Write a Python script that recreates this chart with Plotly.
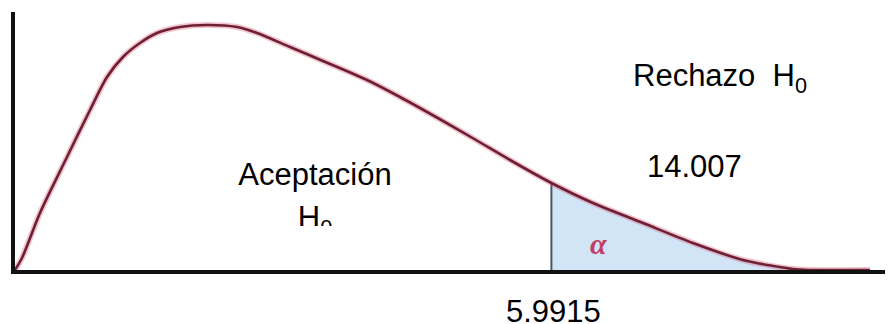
import plotly.graph_objects as go

# Curve (x in chi-square units, y density-like units)
curve_x = [0.0, 0.078, 0.279, 0.581, 0.838, 1.028, 1.206, 1.396, 1.586, 1.843,
           2.145, 2.48, 2.703, 3.072, 3.44, 3.932, 4.3, 4.781, 5.149, 5.529,
           5.9915, 6.456, 7.015, 7.573, 8.132, 8.69, 8.88, 9.55]
curve_y = [0.0, 0.012, 0.057, 0.113, 0.16, 0.193, 0.213, 0.227, 0.237, 0.243,
           0.245, 0.243, 0.237, 0.223, 0.209, 0.19, 0.173, 0.149, 0.13, 0.11,
           0.087, 0.067, 0.047, 0.027, 0.01, 0.001, 0.0, 0.0]
critical = 5.9915
crit_label = "5.9915"
stat_label = "14.007"
accept_labels = ["Aceptación", "H<sub>0</sub>"]
reject_label = "Rechazo&nbsp; H<sub>0</sub>"
alpha_label = "α"

X_MAX = 9.807
Y_MAX = 0.258

tail_x = [x for x in curve_x if x >= critical]
tail_y = [y for x, y in zip(curve_x, curve_y) if x >= critical]
crit_y = curve_y[curve_x.index(critical)]

FONT = "Liberation Sans, Arial, sans-serif"
FS = 31

# The page body has an 8px margin: the figure is laid out to fill the window from there.
PL, PT = 15, 12          # plot-area origin in window pixels
PW, PH = 878, 258        # plot-area size


def px_x(p):
    return (p - PL) / PW


def px_y(p):
    return (PT + PH - p) / PH


fig = go.Figure()

# shaded rejection region
fig.add_trace(go.Scatter(x=tail_x, y=tail_y, mode="lines", fill="tozeroy",
                         fillcolor="#d2e5f7", line=dict(width=0, shape="spline", smoothing=0.6),
                         hoverinfo="skip", showlegend=False))
# critical value line
fig.add_trace(go.Scatter(x=[critical, critical], y=[0, crit_y], mode="lines",
                         line=dict(color="#4a5763", width=2), hoverinfo="skip", showlegend=False))
# halo of curve
fig.add_trace(go.Scatter(x=curve_x, y=curve_y, mode="lines",
                         line=dict(color="rgba(215,90,120,0.35)", width=6, shape="spline", smoothing=0.8),
                         hoverinfo="skip", showlegend=False))
# curve
fig.add_trace(go.Scatter(x=curve_x, y=curve_y, mode="lines",
                         line=dict(color="#6e1f33", width=2.6, shape="spline", smoothing=0.8),
                         hoverinfo="skip", showlegend=False))

# "Aceptación H0" label (its lower part is hidden, as in the reference)
fig.add_trace(go.Scatter(x=[px_x(315) * X_MAX] * 2,
                         y=[px_y(177.5) * Y_MAX, px_y(220.5) * Y_MAX], mode="text",
                         text=accept_labels, textposition="middle center",
                         textfont=dict(family=FONT, size=FS, color="#000000"),
                         cliponaxis=False, hoverinfo="skip", showlegend=False))

fig.update_layout(
    width=885, height=316,
    margin=dict(l=PL - 8, r=0, t=PT - 8, b=316 - (PT - 8) - PH),
    paper_bgcolor="white", plot_bgcolor="white",
    xaxis=dict(range=[0, X_MAX], showline=True, linewidth=4, linecolor="#111111",
               showgrid=False, zeroline=False, showticklabels=False, ticks=""),
    yaxis=dict(range=[0, Y_MAX], showline=True, linewidth=4, linecolor="#111111",
               showgrid=False, zeroline=False, showticklabels=False, ticks=""),
    shapes=[
        dict(type="rect", xref="paper", yref="paper", layer="above",
             x0=px_x(290), x1=px_x(345), y0=px_y(246), y1=px_y(226),
             fillcolor="white", line=dict(width=0)),
    ],
    annotations=[
        dict(text=reject_label, xref="paper", yref="paper", x=px_x(720), y=px_y(78),
             xanchor="center", yanchor="middle", showarrow=False,
             font=dict(family=FONT, size=FS, color="#000000")),
        dict(text=stat_label, xref="paper", yref="paper", x=px_x(694), y=px_y(166),
             xanchor="center", yanchor="middle", showarrow=False,
             font=dict(family=FONT, size=FS, color="#000000")),
        dict(text=crit_label, xref="paper", yref="paper", x=px_x(553), y=px_y(311),
             xanchor="center", yanchor="middle", showarrow=False,
             font=dict(family=FONT, size=FS, color="#000000")),
        dict(text="<b><i>" + alpha_label + "</i></b>", xref="paper", yref="paper",
             x=px_x(598), y=px_y(243),
             xanchor="center", yanchor="middle", showarrow=False,
             font=dict(family="Liberation Serif, serif", size=30, color="#c0406a")),
    ],
)

fig.write_html("out.html")
